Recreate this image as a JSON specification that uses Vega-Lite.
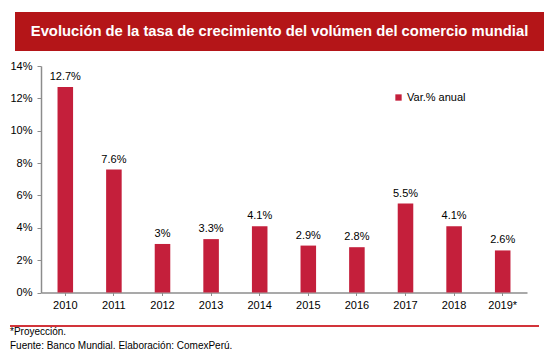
{
  "$schema": "https://vega.github.io/schema/vega-lite/v6.json",
  "padding": {"left": 9, "top": 12, "right": 0, "bottom": 0},
  "background": "white",
  "center": true,
  "spacing": 9,
  "resolve": {"scale": {"color": "independent", "y": "independent"}, "legend": {"color": "independent"}},
  "config": {"view": {"stroke": null}, "font": "Liberation Sans"},
  "vconcat": [
    {
      "width": 529,
      "height": 39,
      "view": {"fill": "#B41518", "stroke": null},
      "data": {"values": [{"k": "banner", "t": "Evolución de la tasa de crecimiento del volúmen del comercio mundial"}]},
      "mark": {"type": "text", "color": "white", "fontWeight": "bold", "fontSize": 14.8, "font": "Liberation Sans", "baseline": "middle", "align": "center", "limit": 529},
      "encoding": {
        "text": {"field": "t"},
        "y": {"field": "k", "type": "nominal", "axis": {"orient": "right", "title": null, "labels": false, "ticks": false, "domain": false, "grid": false, "minExtent": 9, "maxExtent": 9}}
      }
    },
    {
      "width": 486,
      "height": 226.5,
      "data": {"values": [
        {"year": "2010", "v": 0.127},
        {"year": "2011", "v": 0.076},
        {"year": "2012", "v": 0.030},
        {"year": "2013", "v": 0.033},
        {"year": "2014", "v": 0.041},
        {"year": "2015", "v": 0.029},
        {"year": "2016", "v": 0.028},
        {"year": "2017", "v": 0.055},
        {"year": "2018", "v": 0.041},
        {"year": "2019*", "v": 0.026}
      ]},
      "encoding": {
        "x": {
          "field": "year", "type": "nominal", "sort": null,
          "scale": {"paddingInner": 0.68, "paddingOuter": 0.34},
          "axis": {"title": null, "labelAngle": 0, "tickSize": 3, "labelPadding": 4, "labelFontSize": 11, "labelColor": "#000000", "domainColor": "#8C8C8C", "tickColor": "#8C8C8C", "domainWidth": 1.5, "grid": false}
        },
        "y": {
          "field": "v", "type": "quantitative",
          "scale": {"domain": [0, 0.14], "nice": false},
          "axis": {"title": null, "values": [0, 0.02, 0.04, 0.06, 0.08, 0.1, 0.12, 0.14], "format": ".0%", "tickSize": 4, "labelPadding": 5, "labelFontSize": 11, "labelColor": "#000000", "domainColor": "#8C8C8C", "tickColor": "#8C8C8C", "domainWidth": 1.5, "grid": false}
        }
      },
      "layer": [
        {
          "mark": {"type": "bar"},
          "encoding": {
            "color": {
              "datum": "Var.% anual",
              "scale": {"range": ["#C41F3B"]},
              "legend": {"title": null, "orient": "none", "legendX": 352, "legendY": 26, "symbolType": "square", "symbolSize": 40, "labelFontSize": 11, "labelOffset": 3, "padding": 0, "labelColor": "#000000"}
            }
          }
        },
        {
          "mark": {"type": "text", "baseline": "bottom", "dy": -5, "fontSize": 11, "color": "#000000"},
          "encoding": {"text": {"field": "v", "format": ".1~%"}}
        }
      ]
    },
    {
      "width": 529,
      "height": 2,
      "view": {"fill": "#D2343A", "stroke": null},
      "title": {
        "text": ["*Proyección.", "Fuente: Banco Mundial. Elaboración: ComexPerú."],
        "orient": "bottom", "anchor": "start", "fontSize": 10, "fontWeight": "normal", "color": "#000000", "lineHeight": 13.5, "offset": -4, "font": "Liberation Sans"
      },
      "data": {"values": [{"k": "footer"}]},
      "mark": "text",
      "encoding": {
        "text": {"value": ""},
        "y": {"field": "k", "type": "nominal", "axis": {"orient": "right", "title": null, "labels": false, "ticks": false, "domain": false, "grid": false, "minExtent": 19, "maxExtent": 19}}
      }
    }
  ]
}
